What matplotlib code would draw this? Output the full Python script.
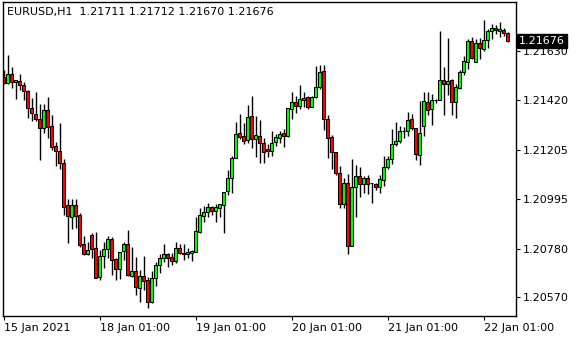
# EURUSD H1 candlestick chart, MetaTrader style

import numpy as np
import matplotlib
matplotlib.use("Agg")
from matplotlib import pyplot as plt
from matplotlib import transforms


# OHLC data (one candle per hour)
opens = [
    1.21520, 1.21494, 1.21532, 1.21497, 1.21503, 1.21486, 1.21460, 1.21388, 1.21361, 1.21339,
    1.21299, 1.21378, 1.21309, 1.21223, 1.21201, 1.21148, 1.20967, 1.20918, 1.20967, 1.20925,
    1.20799, 1.20757, 1.20839, 1.20782, 1.20657, 1.20750, 1.20779, 1.20822, 1.20734, 1.20691,
    1.20770, 1.20799, 1.20664, 1.20685, 1.20609, 1.20662, 1.20645, 1.20552, 1.20653, 1.20710,
    1.20739, 1.20756, 1.20743, 1.20728, 1.20782, 1.20760, 1.20759, 1.20763, 1.20767, 1.20853,
    1.20922, 1.20940, 1.20961, 1.20944, 1.20957, 1.20968, 1.21029, 1.21084, 1.21172, 1.21277,
    1.21266, 1.21249, 1.21352, 1.21252, 1.21266, 1.21234, 1.21210, 1.21202, 1.21241, 1.21256,
    1.21277, 1.21267, 1.21381, 1.21411, 1.21396, 1.21421, 1.21433, 1.21392, 1.21433, 1.21476,
    1.21546, 1.21338, 1.21260, 1.21196, 1.21108, 1.20973, 1.21062, 1.20793, 1.21045, 1.21093,
    1.21059, 1.21084, 1.21062, 1.21059, 1.21047, 1.21076, 1.21134, 1.21167, 1.21230, 1.21244,
    1.21287, 1.21287, 1.21338, 1.21299, 1.21184, 1.21310, 1.21411, 1.21381, 1.21421, 1.21421,
    1.21507, 1.21489, 1.21507, 1.21411, 1.21474, 1.21540, 1.21586, 1.21675, 1.21586, 1.21665,
    1.21641, 1.21680, 1.21718, 1.21730, 1.21718, 1.21723, 1.21711,
]
highs = [
    1.21550, 1.21615, 1.21562, 1.21507, 1.21533, 1.21497, 1.21464, 1.21431, 1.21457, 1.21402,
    1.21402, 1.21435, 1.21356, 1.21241, 1.21321, 1.21167, 1.20993, 1.20993, 1.20993, 1.20934,
    1.20836, 1.20810, 1.20848, 1.20851, 1.20775, 1.20810, 1.20836, 1.20831, 1.20739, 1.20767,
    1.20810, 1.20861, 1.20789, 1.20746, 1.20688, 1.20749, 1.20659, 1.20684, 1.20724, 1.20757,
    1.20800, 1.20760, 1.20760, 1.20810, 1.20800, 1.20800, 1.20782, 1.20775, 1.20918, 1.20954,
    1.20964, 1.20976, 1.20964, 1.20973, 1.20973, 1.21026, 1.21119, 1.21180, 1.21327, 1.21361,
    1.21323, 1.21399, 1.21438, 1.21352, 1.21335, 1.21256, 1.21230, 1.21287, 1.21274, 1.21287,
    1.21295, 1.21385, 1.21454, 1.21438, 1.21486, 1.21457, 1.21438, 1.21438, 1.21568, 1.21572,
    1.21572, 1.21356, 1.21270, 1.21198, 1.21137, 1.21084, 1.21102, 1.21165, 1.21141, 1.21134,
    1.21093, 1.21098, 1.21065, 1.21065, 1.21098, 1.21180, 1.21180, 1.21296, 1.21325, 1.21310,
    1.21303, 1.21368, 1.21359, 1.21302, 1.21417, 1.21457, 1.21457, 1.21446, 1.21424, 1.21718,
    1.21565, 1.21687, 1.21510, 1.21489, 1.21550, 1.21611, 1.21684, 1.21694, 1.21684, 1.21687,
    1.21766, 1.21727, 1.21747, 1.21744, 1.21758, 1.21730, 1.21712,
]
lows = [
    1.21490, 1.21490, 1.21474, 1.21424, 1.21464, 1.21421, 1.21342, 1.21330, 1.21330, 1.21162,
    1.21277, 1.21256, 1.21206, 1.21138, 1.21124, 1.20925, 1.20806, 1.20864, 1.20871, 1.20787,
    1.20753, 1.20753, 1.20739, 1.20653, 1.20645, 1.20698, 1.20739, 1.20667, 1.20645, 1.20648,
    1.20731, 1.20662, 1.20659, 1.20581, 1.20552, 1.20602, 1.20526, 1.20547, 1.20621, 1.20674,
    1.20724, 1.20700, 1.20710, 1.20720, 1.20757, 1.20731, 1.20739, 1.20728, 1.20764, 1.20849,
    1.20897, 1.20915, 1.20925, 1.20897, 1.20915, 1.20846, 1.21012, 1.21019, 1.21170, 1.21252,
    1.21230, 1.21237, 1.21213, 1.21177, 1.21148, 1.21151, 1.21177, 1.21180, 1.21223, 1.21234,
    1.21220, 1.21263, 1.21338, 1.21364, 1.21382, 1.21392, 1.21382, 1.21391, 1.21428, 1.21467,
    1.21292, 1.21170, 1.21122, 1.21098, 1.20954, 1.20954, 1.20756, 1.20792, 1.20915, 1.21002,
    1.21019, 1.21016, 1.20978, 1.21033, 1.21021, 1.21050, 1.21124, 1.21144, 1.21223, 1.21237,
    1.21258, 1.21267, 1.21292, 1.21162, 1.21141, 1.21267, 1.21356, 1.21313, 1.21407, 1.21421,
    1.21356, 1.21443, 1.21356, 1.21345, 1.21468, 1.21529, 1.21553, 1.21598, 1.21586, 1.21598,
    1.21632, 1.21644, 1.21684, 1.21704, 1.21694, 1.21698, 1.21670,
]
closes = [
    1.21494, 1.21533, 1.21497, 1.21507, 1.21486, 1.21460, 1.21388, 1.21364, 1.21339, 1.21299,
    1.21378, 1.21303, 1.21220, 1.21201, 1.21148, 1.20961, 1.20922, 1.20967, 1.20922, 1.20796,
    1.20756, 1.20775, 1.20779, 1.20655, 1.20749, 1.20779, 1.20822, 1.20731, 1.20691, 1.20767,
    1.20799, 1.20667, 1.20684, 1.20614, 1.20662, 1.20642, 1.20552, 1.20653, 1.20710, 1.20739,
    1.20757, 1.20739, 1.20728, 1.20782, 1.20760, 1.20759, 1.20765, 1.20770, 1.20856, 1.20925,
    1.20937, 1.20959, 1.20944, 1.20959, 1.20971, 1.21026, 1.21084, 1.21170, 1.21274, 1.21260,
    1.21246, 1.21346, 1.21252, 1.21270, 1.21237, 1.21198, 1.21202, 1.21237, 1.21260, 1.21273,
    1.21267, 1.21385, 1.21411, 1.21396, 1.21424, 1.21431, 1.21392, 1.21433, 1.21476, 1.21540,
    1.21338, 1.21259, 1.21198, 1.21108, 1.20971, 1.21062, 1.20793, 1.21045, 1.21093, 1.21059,
    1.21084, 1.21059, 1.21061, 1.21047, 1.21079, 1.21134, 1.21167, 1.21230, 1.21244, 1.21287,
    1.21289, 1.21335, 1.21299, 1.21187, 1.21277, 1.21417, 1.21378, 1.21421, 1.21422, 1.21507,
    1.21489, 1.21503, 1.21414, 1.21478, 1.21540, 1.21589, 1.21675, 1.21603, 1.21665, 1.21644,
    1.21680, 1.21718, 1.21730, 1.21723, 1.21727, 1.21711, 1.21676,
]

price_ticks = [1.20570, 1.20780, 1.20995, 1.21205, 1.21420, 1.21630]
date_tick_bars = [0, 24, 48, 72, 96, 120]
date_tick_labels = ["15 Jan 2021", "18 Jan 01:00", "19 Jan 01:00",
                    "20 Jan 01:00", "21 Jan 01:00", "22 Jan 01:00"]
symbol = "EURUSD,H1"


# arrays
o = np.asarray(opens)
h = np.asarray(highs)
l = np.asarray(lows)
c = np.asarray(closes)
x = np.arange(len(o))

plt.rcParams["font.family"] = "DejaVu Sans"
plt.rcParams["font.size"] = 8

fig = plt.figure(figsize=(5.8, 3.4), dpi=100)
ax = fig.add_axes([3 / 580, 24 / 340, 513 / 580, 314 / 340])

# wicks
ax.vlines(x, l, h, color="black", lw=1.0, zorder=1)

# bodies
up = c >= o
colors = np.where(up, "#00ff00", "#ff0000")
bottoms = np.minimum(o, c)
heights = np.maximum(np.abs(c - o), 0.000005)
ax.bar(x, heights, bottom=bottoms, width=0.58, color=colors,
       edgecolor="black", linewidth=0.75, zorder=2)

ax.set_xlim(-0.125, 128.125)
ax.set_ylim(1.20490, 1.21843)

# price axis on the right
ax.yaxis.tick_right()
ax.set_yticks(price_ticks)
ax.set_yticklabels(["%.5f" % p for p in price_ticks])
ax.tick_params(axis="y", length=3, width=0.8, pad=2, colors="black")

# date axis
ax.set_xticks(date_tick_bars)
ax.set_xticklabels(date_tick_labels, ha="left")
ax.tick_params(axis="x", length=3, width=0.8, pad=2, colors="black")
for lab in ax.get_xticklabels():
    lab.set_x(0)

for sp in ax.spines.values():
    sp.set_linewidth(1.0)
    sp.set_color("black")

# last price tag
trans = transforms.blended_transform_factory(ax.transAxes, ax.transData)
ax.text(1.006, c[-1], "%.5f" % c[-1], transform=trans, color="white",
        ha="left", va="center", fontsize=8, zorder=5, clip_on=False,
        bbox=dict(boxstyle="square,pad=0.18", fc="black", ec="black"))

# header
header = symbol + "  " + " ".join("%.5f" % v for v in (o[-1], h[-1], l[-1], c[-1]))
fig.text(7 / 580, 1 - 12 / 340, header, ha="left", va="center", fontsize=8, color="black")

plt.savefig("out.png", dpi=100)
